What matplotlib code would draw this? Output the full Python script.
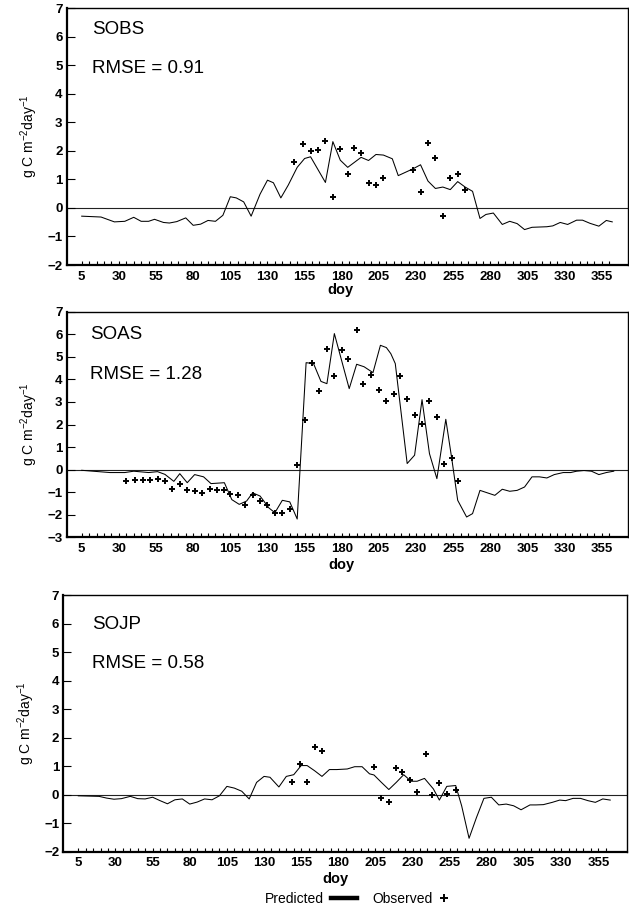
import matplotlib
matplotlib.use('Agg')
import matplotlib.pyplot as plt
from matplotlib.lines import Line2D

plt.rcParams['font.family'] = ['Liberation Sans', 'DejaVu Sans']
plt.rcParams['mathtext.default'] = 'regular'

# ---------------- data ----------------
sites = ['SOBS', 'SOAS', 'SOJP']
rmse_labels = ['RMSE = 0.91', 'RMSE = 1.28', 'RMSE = 0.58']
ylims = [(-2, 7), (-3, 7), (-2, 7)]
xtick_labels = [5, 30, 55, 80, 105, 130, 155, 180, 205, 230, 255, 280, 305, 330, 355]

sobs_pred_doy = [5, 18, 27, 34, 40, 45, 50, 54, 60, 64, 69, 75, 80, 85, 90, 95, 100, 105, 109, 114,
                 119, 125, 130, 134, 139, 144, 150, 155, 159, 169, 174, 179, 184, 193, 198, 203, 208,
                 214, 218, 223, 228, 233, 238, 243, 248, 253, 258, 263, 268, 273, 277, 282, 288, 293,
                 298, 303, 308, 318, 322, 327, 332, 338, 342, 347, 353, 358, 362]
sobs_pred = [-0.29, -0.32, -0.49, -0.47, -0.33, -0.47, -0.47, -0.40, -0.51, -0.53, -0.48, -0.35, -0.61,
             -0.57, -0.44, -0.47, -0.26, 0.39, 0.35, 0.21, -0.29, 0.48, 0.97, 0.88, 0.35, 0.80, 1.42,
             1.73, 1.79, 0.89, 2.32, 1.67, 1.42, 1.77, 1.66, 1.87, 1.85, 1.72, 1.13, 1.25, 1.37, 1.51,
             0.94, 0.68, 0.73, 0.64, 0.92, 0.73, 0.58, -0.37, -0.23, -0.18, -0.58, -0.47, -0.55, -0.76,
             -0.68, -0.66, -0.63, -0.51, -0.58, -0.43, -0.43, -0.54, -0.64, -0.44, -0.49]
sobs_obs_doy = [148, 154, 159, 164, 169, 174, 179, 184, 188, 193, 198, 203, 208, 228, 233, 238, 243,
                248, 253, 258, 263]
sobs_obs = [1.59, 2.22, 1.99, 2.02, 2.34, 0.39, 2.06, 1.20, 2.11, 1.91, 0.88, 0.81, 1.03, 1.32, 0.57,
            2.28, 1.75, -0.27, 1.05, 1.19, 0.64]

soas_pred_doy = [5, 24, 34, 40, 50, 56, 61, 67, 71, 76, 81, 87, 92, 101, 106, 111, 116, 120, 125, 131,
                 135, 140, 145, 150, 156, 161, 166, 170, 175, 185, 190, 195, 201, 206, 210, 213, 216,
                 224, 229, 234, 239, 244, 250, 254, 258, 264, 268, 273, 278, 283, 288, 293, 298, 303,
                 308, 313, 318, 323, 329, 334, 338, 343, 348, 353, 358, 363]
soas_pred = [-0.03, -0.13, -0.13, -0.07, -0.13, -0.09, -0.21, -0.52, -0.18, -0.58, -0.22, -0.32, -0.62,
             -0.58, -1.33, -1.54, -1.39, -1.03, -1.17, -1.70, -1.91, -1.36, -1.43, -2.19, 4.74, 4.70,
             3.91, 3.81, 6.03, 3.59, 4.67, 4.56, 4.30, 5.51, 5.41, 5.14, 4.70, 0.27, 0.64, 3.10, 0.71,
             -0.40, 2.23, 0.49, -1.36, -2.10, -1.95, -0.92, -1.03, -1.14, -0.87, -0.96, -0.92, -0.77,
             -0.32, -0.32, -0.37, -0.22, -0.13, -0.13, -0.07, -0.04, -0.07, -0.22, -0.13, -0.07]
soas_obs_doy = [35, 41, 46, 51, 56, 61, 66, 71, 76, 81, 86, 91, 96, 101, 105, 110, 115, 120, 125, 130,
                135, 140, 145, 150, 155, 160, 165, 170, 175, 180, 184, 190, 194, 200, 205, 210, 215,
                219, 224, 229, 234, 239, 244, 249, 254, 258]
soas_obs = [-0.52, -0.47, -0.47, -0.47, -0.40, -0.52, -0.84, -0.62, -0.89, -0.95, -1.02, -0.84, -0.89,
            -0.89, -1.09, -1.11, -1.58, -1.14, -1.39, -1.58, -1.91, -1.91, -1.73, 0.22, 2.19, 4.73,
            3.49, 5.36, 4.15, 5.29, 4.92, 6.20, 3.81, 4.21, 3.53, 3.06, 3.34, 4.14, 3.15, 2.44, 2.01,
            3.03, 2.33, 0.24, 0.52, -0.52]

sojp_pred_doy = [5, 19, 24, 29, 34, 40, 45, 50, 55, 60, 65, 70, 75, 80, 85, 90, 95, 100, 105, 110, 115,
                 120, 125, 130, 134, 140, 145, 150, 155, 159, 164, 169, 174, 179, 186, 191, 196, 201,
                 204, 209, 214, 219, 224, 229, 233, 238, 244, 248, 253, 259, 263, 268, 273, 278, 283,
                 288, 293, 298, 303, 309, 313, 318, 324, 329, 333, 338, 343, 348, 353, 358, 363]
sojp_pred = [-0.04, -0.06, -0.12, -0.16, -0.14, -0.06, -0.14, -0.15, -0.09, -0.21, -0.32, -0.18, -0.15,
             -0.33, -0.26, -0.15, -0.18, -0.04, 0.29, 0.23, 0.12, -0.15, 0.43, 0.64, 0.61, 0.27, 0.64,
             0.70, 1.02, 1.02, 0.84, 0.64, 0.88, 0.88, 0.90, 0.98, 0.98, 0.73, 0.69, 0.43, 0.18, 0.43,
             0.70, 0.47, 0.47, 0.57, 0.20, -0.19, 0.29, 0.32, -0.39, -1.53, -0.80, -0.13, -0.09, -0.36,
             -0.33, -0.39, -0.53, -0.36, -0.36, -0.35, -0.27, -0.19, -0.21, -0.13, -0.13, -0.21, -0.27,
             -0.15, -0.19]
sojp_obs_doy = [149, 154, 159, 164, 169, 204, 209, 214, 219, 223, 228, 233, 239, 243, 248, 253, 259]
sojp_obs = [0.43, 1.09, 0.44, 1.66, 1.52, 0.96, -0.13, -0.27, 0.94, 0.81, 0.53, 0.08, 1.43, -0.01,
            0.40, 0.02, 0.18]

pred_doys = [sobs_pred_doy, soas_pred_doy, sojp_pred_doy]
preds = [sobs_pred, soas_pred, sojp_pred]
obs_doys = [sobs_obs_doy, soas_obs_doy, sojp_obs_doy]
obss = [sobs_obs, soas_obs, sojp_obs]

# ---------------- layout ----------------
W, H = 629, 907
fig = plt.figure(figsize=(W / 100, H / 100), dpi=100)

# (left px, top px, right px, bottom px)
boxes = [(66.7, 8, 628, 265), (66.7, 311.7, 628, 537.3), (63.3, 595, 627.3, 851.7)]
xlims = [(-5.1, 372.6), (-5.1, 372.6), (-5.1, 374.5)]
name_y = [0.898, 0.878, 0.866]
rmse_y = [0.746, 0.7035, 0.714]
name_x = [0.0445, 0.0415, 0.0504]
doy_y = [-0.071, -0.092, -0.078]
doy_x = [0.487, 0.489, 0.482]

for i in range(3):
    l, t, r, b = boxes[i]
    ax = fig.add_axes([l / W, 1 - b / H, (r - l) / W, (b - t) / H])
    ax.axhline(0, color='#222222', lw=0.8, zorder=1)
    ax.plot(pred_doys[i], preds[i], color='black', lw=0.75, zorder=2)
    ax.plot(obs_doys[i], obss[i], linestyle='none', marker='+', color='black',
            ms=4.5, mew=1.4, zorder=3)
    ax.set_xlim(*xlims[i])
    ax.set_ylim(*ylims[i])

    ticks = list(range(5, 361, 5))
    ax.set_xticks(ticks)
    ax.set_xticklabels([str(d) if d in xtick_labels else '' for d in ticks])
    ax.set_yticks(list(range(ylims[i][0], ylims[i][1] + 1)))
    ax.tick_params(axis='x', direction='in', length=3, width=0.8, labelsize=9.5, pad=4)
    ax.tick_params(axis='y', direction='in', length=5.5, width=0.8, labelsize=9.5, pad=3)
    for lbl in ax.get_xticklabels() + ax.get_yticklabels():
        lbl.set_fontweight('bold')

    for side in ['left', 'bottom']:
        ax.spines[side].set_linewidth(1.6)
    for side in ['top', 'right']:
        ax.spines[side].set_linewidth(1.0)

    ax.set_ylabel(r'g C m$^{-2}$day$^{-1}$', fontsize=10)
    ax.yaxis.set_label_coords(-0.047, 0.5)

    ax.text(doy_x[i], doy_y[i], 'doy', transform=ax.transAxes, ha='center', va='top',
            fontsize=10.5, fontweight='bold')
    ax.text(name_x[i], name_y[i], sites[i], transform=ax.transAxes, fontsize=13.5, va='baseline')
    ax.text(name_x[i], rmse_y[i], rmse_labels[i], transform=ax.transAxes, fontsize=13.5, va='baseline')

# ---------------- legend ----------------
yb = 1 - 903 / H
fig.text(265 / W, yb, 'Predicted', fontsize=10, va='baseline', ha='left')
fig.add_artist(Line2D([331 / W, 357 / W], [1 - 898 / H, 1 - 898 / H], color='black', lw=3.2,
                      transform=fig.transFigure))
fig.text(372 / W, yb, 'Observed', fontsize=10, va='baseline', ha='left')
fig.add_artist(Line2D([444 / W], [1 - 898 / H], marker='+', color='black', ms=6, mew=1.4,
                      linestyle='none', transform=fig.transFigure))

fig.savefig('out.png', dpi=100)
